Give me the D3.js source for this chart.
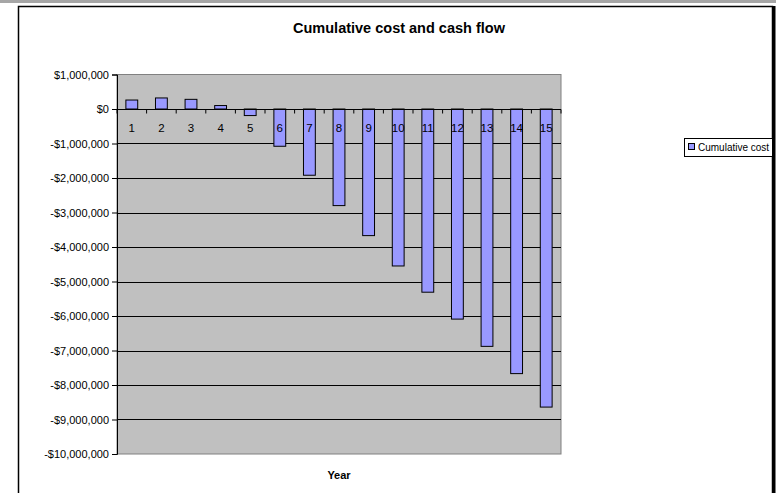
<!DOCTYPE html>
<html>
<head>
<meta charset="utf-8">
<script src="https://cdn.jsdelivr.net/npm/d3@7"></script>
<style>
  html, body { margin: 0; padding: 0; background: #ffffff; }
  svg { display: block; font-family: "Liberation Sans", Arial, sans-serif; }
</style>
</head>
<body>
<svg id="chart" width="776" height="493"></svg>
<script>
// Cumulative cost by project year
const years = [1, 2, 3, 4, 5, 6, 7, 8, 9, 10, 11, 12, 13, 14, 15];
const cumulativeCost = [260000, 320000, 280000, 100000, -190000, -1080000, -1920000,
  -2800000, -3670000, -4550000, -5310000, -6090000, -6880000, -7670000, -8640000];
const yTicks = [1000000, 0, -1000000, -2000000, -3000000, -4000000, -5000000,
  -6000000, -7000000, -8000000, -9000000, -10000000];
const seriesName = "Cumulative cost";
const chartTitle = "Cumulative cost and cash flow";
const xTitle = "Year";

const svg = d3.select("#chart");

// window chrome strip and chart frame
svg.append("rect").attr("x", 0).attr("y", 0).attr("width", 776).attr("height", 3).attr("fill", "#a6a6a6");
svg.append("rect").attr("x", 18.5).attr("y", 6.5).attr("width", 754).attr("height", 500)
  .attr("fill", "#ffffff").attr("stroke", "#000000").attr("stroke-width", 1.5);
svg.append("line").attr("x1", 774).attr("x2", 774).attr("y1", 6).attr("y2", 493)
  .attr("stroke", "#000000").attr("stroke-width", 3);

const plot = { left: 117, right: 561, top: 74.5, bottom: 454 };

const x = d3.scaleBand().domain(years).range([plot.left, plot.right])
  .paddingInner(0.6).paddingOuter(0.3);
const y = d3.scaleLinear().domain([-10000000, 1000000]).range([plot.bottom, plot.top]);

// plot background
svg.append("rect")
  .attr("x", plot.left).attr("y", plot.top)
  .attr("width", plot.right - plot.left).attr("height", plot.bottom - plot.top)
  .attr("fill", "#c0c0c0").attr("stroke", "#808080").attr("stroke-width", 1);

// horizontal gridlines
svg.append("g").selectAll("line")
  .data(yTicks.filter(v => v < 1000000 && v > -10000000))
  .join("line")
  .attr("x1", plot.left).attr("x2", plot.right)
  .attr("y1", d => Math.round(y(d)) + 0.5).attr("y2", d => Math.round(y(d)) + 0.5)
  .attr("stroke", "#000000").attr("stroke-width", 1);

// y axis
const fmt = v => (v < 0 ? "-$" : "$") + d3.format(",")(Math.abs(v));
const yAxis = svg.append("g")
  .attr("transform", `translate(${plot.left},0)`)
  .call(d3.axisLeft(y).tickValues(yTicks).tickFormat(fmt).tickSize(5).tickPadding(3));
yAxis.select(".domain").attr("stroke", "#000000");
yAxis.selectAll(".tick line").attr("stroke", "#000000");
yAxis.selectAll("text").attr("font-size", "11px").attr("fill", "#000000")
  .attr("font-family", "Liberation Sans, Arial, sans-serif");

// bars
svg.append("g").selectAll("rect")
  .data(years.map((yr, i) => ({ yr, v: cumulativeCost[i] })))
  .join("rect")
  .attr("x", d => x(d.yr))
  .attr("width", x.bandwidth())
  .attr("y", d => y(Math.max(0, d.v)))
  .attr("height", d => Math.abs(y(d.v) - y(0)))
  .attr("fill", "#9999ff").attr("stroke", "#000000").attr("stroke-width", 1);

// category axis along the zero line
const y0 = Math.round(y(0)) + 0.5;
svg.append("line").attr("x1", plot.left).attr("x2", plot.right)
  .attr("y1", y0).attr("y2", y0).attr("stroke", "#000000").attr("stroke-width", 1);
const step = x.step();
const bounds = years.map(yr => x(yr) - (step - x.bandwidth()) / 2).concat([plot.right]);
svg.append("g").selectAll("line")
  .data(bounds)
  .join("line")
  .attr("x1", d => d).attr("x2", d => d)
  .attr("y1", y0).attr("y2", y0 + 4)
  .attr("stroke", "#000000").attr("stroke-width", 1);
svg.append("g").selectAll("text")
  .data(years)
  .join("text")
  .attr("x", d => x(d) + x.bandwidth() / 2)
  .attr("y", y0 + 22)
  .attr("text-anchor", "middle")
  .attr("font-size", "11.5px")
  .attr("fill", "#000000")
  .text(d => d);

// titles
svg.append("text").attr("x", 399).attr("y", 33).attr("text-anchor", "middle")
  .attr("font-size", "14.5px").attr("font-weight", "bold").text(chartTitle);
svg.append("text").attr("x", (plot.left + plot.right) / 2).attr("y", 479).attr("text-anchor", "middle")
  .attr("font-size", "11px").attr("font-weight", "bold").text(xTitle);

// legend
const lg = svg.append("g");
lg.append("rect").attr("x", 684.5).attr("y", 138.5).attr("width", 88).attr("height", 18)
  .attr("fill", "#ffffff").attr("stroke", "#000000").attr("stroke-width", 1);
lg.append("rect").attr("x", 688.5).attr("y", 143.5).attr("width", 6).attr("height", 6)
  .attr("fill", "#9999ff").attr("stroke", "#000000").attr("stroke-width", 1);
lg.append("text").attr("x", 698).attr("y", 151).attr("font-size", "10px").text(seriesName);
</script>
</body>
</html>
